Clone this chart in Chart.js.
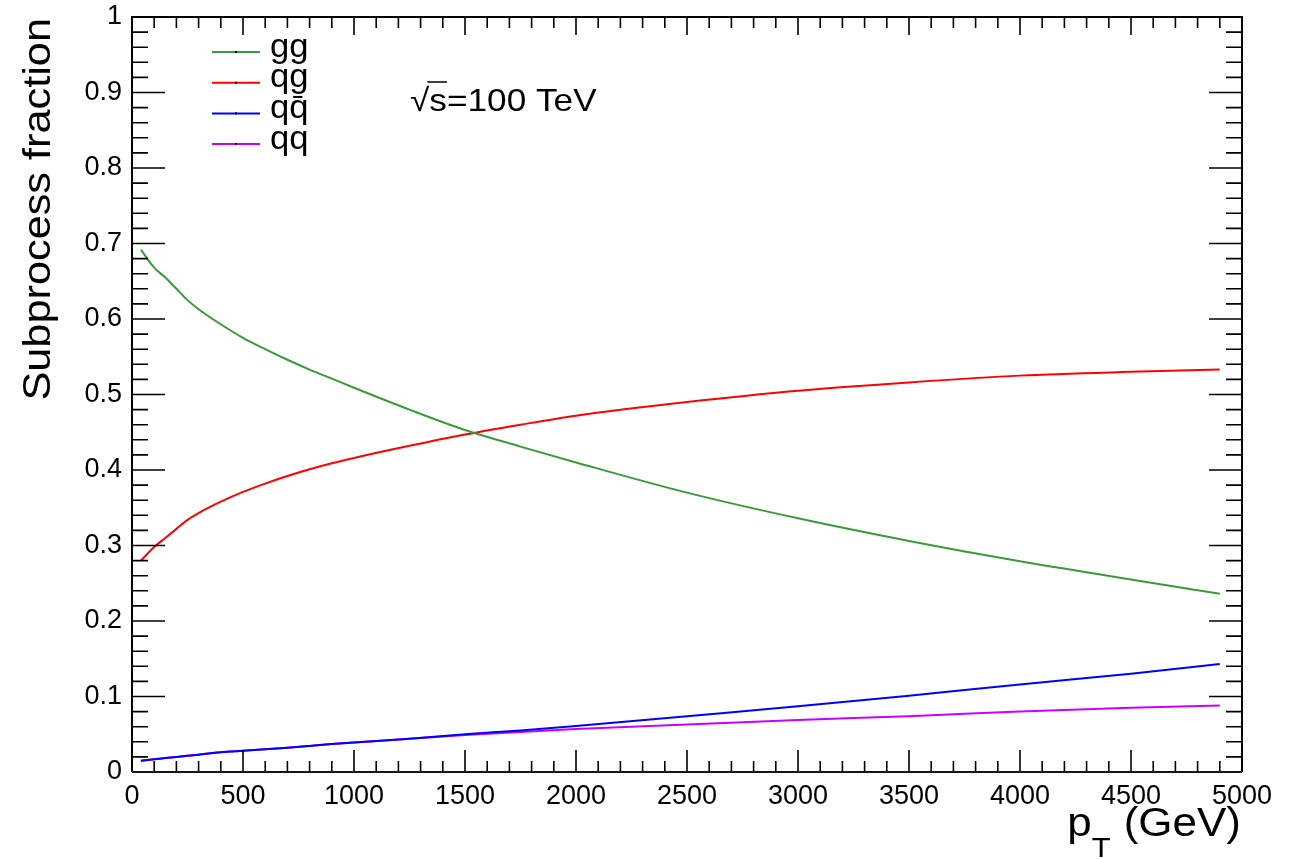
<!DOCTYPE html>
<html>
<head>
  <title>Subprocess fraction vs pT</title>
  <script src="https://cdn.jsdelivr.net/npm/chart.js"></script>
  <style>
    body { margin: 0; background: #fff; }
    canvas { display: block; }
  </style>
</head>
<body>
  <canvas id="fracChart" width="1300" height="859"></canvas>

  <script>
    // pT bin positions (GeV) and the fraction of each subprocess
    const pT        = [40, 100, 150, 200, 250, 300, 400, 500, 600, 700, 800, 900, 1000, 1250, 1500, 1750, 2000, 2500, 3000, 3500, 4000, 4500, 4900];
    const ggFrac    = [0.692, 0.668, 0.655, 0.640, 0.625, 0.613, 0.593, 0.575, 0.560, 0.546, 0.533, 0.521, 0.509, 0.480, 0.453, 0.431, 0.410, 0.370, 0.336, 0.306, 0.279, 0.255, 0.236];
    const qgFrac    = [0.280, 0.298, 0.310, 0.322, 0.334, 0.343, 0.358, 0.371, 0.382, 0.392, 0.401, 0.409, 0.416, 0.432, 0.447, 0.460, 0.472, 0.490, 0.505, 0.516, 0.525, 0.530, 0.533];
    const qqbarFrac = [0.015, 0.017, 0.0185, 0.020, 0.0215, 0.023, 0.026, 0.028, 0.030, 0.032, 0.0345, 0.037, 0.039, 0.044, 0.050, 0.055, 0.061, 0.074, 0.087, 0.101, 0.116, 0.130, 0.143];
    const qqFrac    = [0.015, 0.017, 0.0185, 0.020, 0.0215, 0.023, 0.026, 0.028, 0.030, 0.032, 0.0345, 0.037, 0.039, 0.044, 0.049, 0.053, 0.057, 0.063, 0.069, 0.074, 0.080, 0.085, 0.088];

    const seriesNames  = ['gg', 'qg', 'qq\u0304', 'qq'];
    const seriesColors = ['#3a9a3a', '#ff0000', '#0000ff', '#c800ff'];

    const xTicks = [0, 500, 1000, 1500, 2000, 2500, 3000, 3500, 4000, 4500, 5000];
    const yTicks = [0, 0.1, 0.2, 0.3, 0.4, 0.5, 0.6, 0.7, 0.8, 0.9, 1];

    const FONT = "'Liberation Sans', Arial, Helvetica, sans-serif";
    Chart.defaults.font.family = FONT;
    Chart.defaults.color = '#000';

    const toPoints = ys => pT.map((x, i) => ({ x: x, y: ys[i] }));

    // text drawn slightly wider than the font, like ROOT's Helvetica
    function wideText(ctx, text, x, y, sx) {
      ctx.save();
      ctx.translate(x, y);
      ctx.scale(sx, 1);
      ctx.fillText(text, 0, 0);
      ctx.restore();
    }

    // ROOT-style frame: inward ticks on all four sides, legend and labels
    const rootFrame = {
      id: 'rootFrame',
      afterDraw(chart) {
        const ctx = chart.ctx;
        const { left, right, top, bottom } = chart.chartArea;
        const xs = chart.scales.x, ys = chart.scales.y;
        ctx.save();

        // ticks
        ctx.strokeStyle = '#000';
        ctx.lineWidth = 1.6;
        ctx.beginPath();
        for (let v = 0; v <= 5000; v += 100) {
          const px = xs.getPixelForValue(v);
          const major = v % 500 === 0;
          ctx.moveTo(px, bottom); ctx.lineTo(px, bottom - (major ? 22 : 11));
          ctx.moveTo(px, top);    ctx.lineTo(px, top + (major ? 18 : 11));
        }
        for (let k = 0; k <= 50; k++) {
          const py = ys.getPixelForValue(k * 0.02);
          const major = k % 5 === 0;
          ctx.moveTo(left, py);  ctx.lineTo(left + (major ? 33 : 16), py);
          ctx.moveTo(right, py); ctx.lineTo(right - (major ? 33 : 16), py);
        }
        ctx.stroke();

        // frame
        ctx.lineWidth = 2;
        ctx.beginPath();
        ctx.moveTo(left, bottom); ctx.lineTo(left, top);
        ctx.lineTo(right, top); ctx.lineTo(right, bottom);
        ctx.stroke();
        ctx.strokeStyle = '#10103c';
        ctx.beginPath();
        ctx.moveTo(left, bottom); ctx.lineTo(right, bottom);
        ctx.stroke();

        // legend
        ctx.font = '33px ' + FONT;
        ctx.textAlign = 'left';
        ctx.textBaseline = 'alphabetic';
        chart.data.datasets.forEach((ds, i) => {
          const y = 52 + i * 30.7;
          ctx.strokeStyle = ds.borderColor;
          ctx.lineWidth = 2;
          ctx.beginPath();
          ctx.moveTo(212, y); ctx.lineTo(260, y);
          ctx.stroke();
          ctx.fillStyle = '#000';
          ctx.fillRect(235, y - 1, 2, 2);
          wideText(ctx, ds.label, 270, y + 4.5, 1.05);
        });

        // energy label
        const SX = 1.1;
        ctx.font = '32px ' + FONT;
        ctx.fillStyle = '#000';
        const rootW = ctx.measureText('\u221A').width * SX;
        const sW = ctx.measureText('s').width * SX;
        wideText(ctx, '\u221As=100 TeV', 410, 111, SX);
        ctx.lineWidth = 1.5;
        ctx.strokeStyle = '#000';
        ctx.beginPath();
        ctx.moveTo(410 + rootW - 2, 82); ctx.lineTo(410 + rootW + sW, 82);
        ctx.stroke();

        // x title: p_T (GeV)
        ctx.textAlign = 'right';
        ctx.font = '40px ' + FONT;
        wideText(ctx, '(GeV)', 1241, 836, SX);
        const gevW = ctx.measureText('(GeV)').width * SX;
        ctx.font = '28px ' + FONT;
        const tW = ctx.measureText('T').width * SX;
        wideText(ctx, 'T', 1241 - gevW - 13, 857, SX);
        ctx.font = '40px ' + FONT;
        wideText(ctx, 'p', 1241 - gevW - 13 - tW, 836, SX);

        // y title
        ctx.translate(50, 18);
        ctx.rotate(-Math.PI / 2);
        ctx.font = '39px ' + FONT;
        ctx.textAlign = 'right';
        wideText(ctx, 'Subprocess fraction', 0, 0, 1.11);

        ctx.restore();
      }
    };

    new Chart(document.getElementById('fracChart'), {
      type: 'line',
      data: {
        datasets: [ggFrac, qgFrac, qqbarFrac, qqFrac].map((ys, i) => ({
          label: seriesNames[i],
          data: toPoints(ys),
          borderColor: seriesColors[i],
          borderWidth: 2,
          pointRadius: 0,
          cubicInterpolationMode: 'monotone',
          fill: false
        }))
      },
      options: {
        responsive: false,
        animation: false,
        layout: { autoPadding: false, padding: { left: 10, right: 58, top: 17, bottom: 0 } },
        plugins: {
          legend: { display: false },
          title: { display: false },
          tooltip: { enabled: false }
        },
        scales: {
          x: {
            type: 'linear',
            min: 0, max: 5000,
            afterBuildTicks: s => { s.ticks = xTicks.map(v => ({ value: v })); },
            afterFit: s => { s.height = 87; s.paddingLeft = 0; s.paddingRight = 0; },
            grid: { display: false, drawTicks: false },
            border: { display: false },
            ticks: {
              autoSkip: false, maxRotation: 0, padding: 8,
              font: { size: 27 },
              callback: v => String(v)
            }
          },
          y: {
            type: 'linear',
            min: 0, max: 1,
            afterBuildTicks: s => { s.ticks = yTicks.map(v => ({ value: v })); },
            afterFit: s => { s.width = 122; s.paddingTop = 0; s.paddingBottom = 0; },
            grid: { display: false, drawTicks: false },
            border: { display: false },
            ticks: {
              autoSkip: false, padding: 10,
              font: { size: 27 },
              callback: v => String(Math.round(v * 10) / 10)
            }
          }
        }
      },
      plugins: [rootFrame]
    });
  </script>
</body>
</html>
